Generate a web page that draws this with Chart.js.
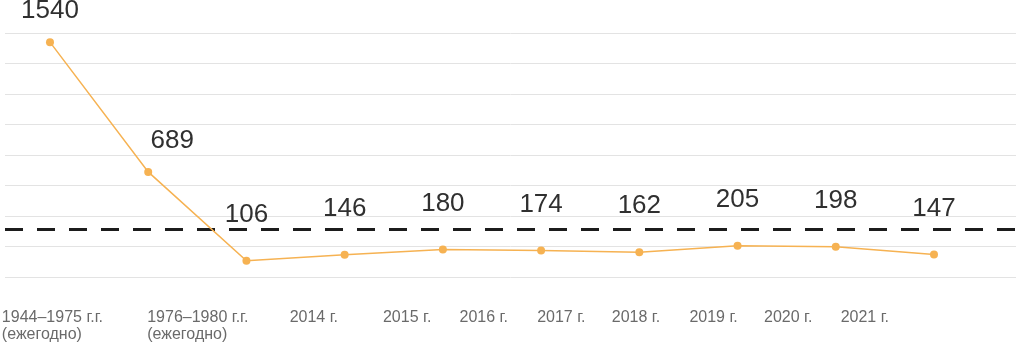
<!DOCTYPE html>
<html>
<head>
<meta charset="utf-8">
<script src="https://cdn.jsdelivr.net/npm/chart.js@4.4.1/dist/chart.umd.min.js"></script>
<style>
  html, body { margin: 0; padding: 0; background: #ffffff; }
  #wrap { width: 1016px; height: 345px; }
</style>
</head>
<body>
<div id="wrap"><canvas id="chart" width="1016" height="345"></canvas></div>
<script>
// Periods and the number of cases recorded in each
const categories = [
  ['1944–1975 г.г.', '(ежегодно)'],
  ['1976–1980 г.г.', '(ежегодно)'],
  '2014 г.', '2015 г.', '2016 г.', '2017 г.', '2018 г.', '2019 г.', '2020 г.', '2021 г.'
];
const values = [1540, 689, 106, 146, 180, 174, 162, 205, 198, 147];
const yTicks = [0, 200, 400, 600, 800, 1000, 1200, 1400, 1600];
const threshold = 312;

// Layout: where each period caption starts, in x-axis units
const labelSlots = [-0.49, 0.99, 2.44, 3.39, 4.17, 4.96, 5.72, 6.51, 7.27, 8.05];
const X_MIN = -0.458, X_MAX = 9.835;

const ORANGE = '#f6b252';

// Dashed reference level across the whole plot
const thresholdLine = {
  id: 'thresholdLine',
  beforeDatasetsDraw(chart) {
    const { ctx, chartArea } = chart;
    const y = chart.scales.y.getPixelForValue(threshold);
    ctx.save();
    ctx.strokeStyle = '#1c1c1c';
    ctx.lineWidth = 3;
    ctx.setLineDash([18, 14]);
    ctx.beginPath();
    ctx.moveTo(chartArea.left, y);
    ctx.lineTo(chartArea.right, y);
    ctx.stroke();
    ctx.restore();
  }
};

// Value captions above each point
const valueLabels = {
  id: 'valueLabels',
  afterDatasetsDraw(chart) {
    const ctx = chart.ctx;
    const meta = chart.getDatasetMeta(0);
    const dashY = chart.scales.y.getPixelForValue(threshold);
    ctx.save();
    ctx.font = '26px "Liberation Sans", Arial, sans-serif';
    ctx.fillStyle = '#303030';
    ctx.textAlign = 'center';
    ctx.textBaseline = 'middle';
    meta.data.forEach((pt, i) => {
      let x = pt.x;
      let y = pt.y - 31;
      if (y > dashY - 18) {
        y = pt.y - 46;
      } else if (i > 0 && values[i - 1] > values[i]) {
        x += 24;
      }
      ctx.fillText(String(values[i]), x, y);
    });
    ctx.restore();
  }
};

new Chart(document.getElementById('chart'), {
  type: 'line',
  data: {
    datasets: [{
      data: values.map((v, i) => ({ x: i, y: v })),
      borderColor: ORANGE,
      backgroundColor: ORANGE,
      borderWidth: 1.5,
      pointRadius: 4,
      pointBorderWidth: 0,
      pointBackgroundColor: ORANGE,
      tension: 0,
      xAxisID: 'x',
      yAxisID: 'y'
    }]
  },
  options: {
    responsive: false,
    animation: false,
    devicePixelRatio: 1,
    layout: { autoPadding: false, padding: { top: 33, left: 5, right: 0, bottom: 0 } },
    plugins: { legend: { display: false }, tooltip: { enabled: false } },
    scales: {
      x: {
        type: 'linear',
        min: X_MIN,
        max: X_MAX,
        display: false
      },
      xl: {
        type: 'linear',
        position: 'bottom',
        min: X_MIN,
        max: X_MAX,
        grid: { display: false, drawTicks: false },
        border: { display: false },
        afterBuildTicks(scale) {
          scale.ticks = labelSlots.map(v => ({ value: v }));
        },
        afterFit(scale) {
          scale.height = 68;
          scale.paddingLeft = 0;
          scale.paddingRight = 0;
        },
        ticks: {
          autoSkip: false,
          maxRotation: 0,
          minRotation: 0,
          align: 'start',
          padding: 32,
          color: '#6a6a6a',
          font: { family: '"Liberation Sans", Arial, sans-serif', size: 16, lineHeight: '17px' },
          callback: (value, index) => categories[index]
        }
      },
      y: {
        type: 'linear',
        min: 0,
        max: 1600,
        afterBuildTicks(scale) {
          scale.ticks = yTicks.map(v => ({ value: v }));
        },
        afterFit(scale) { scale.width = 0; },
        ticks: { display: false },
        grid: { color: '#e3e3e3', lineWidth: 1, drawTicks: false },
        border: { display: false }
      }
    }
  },
  plugins: [thresholdLine, valueLabels]
});
</script>
</body>
</html>
